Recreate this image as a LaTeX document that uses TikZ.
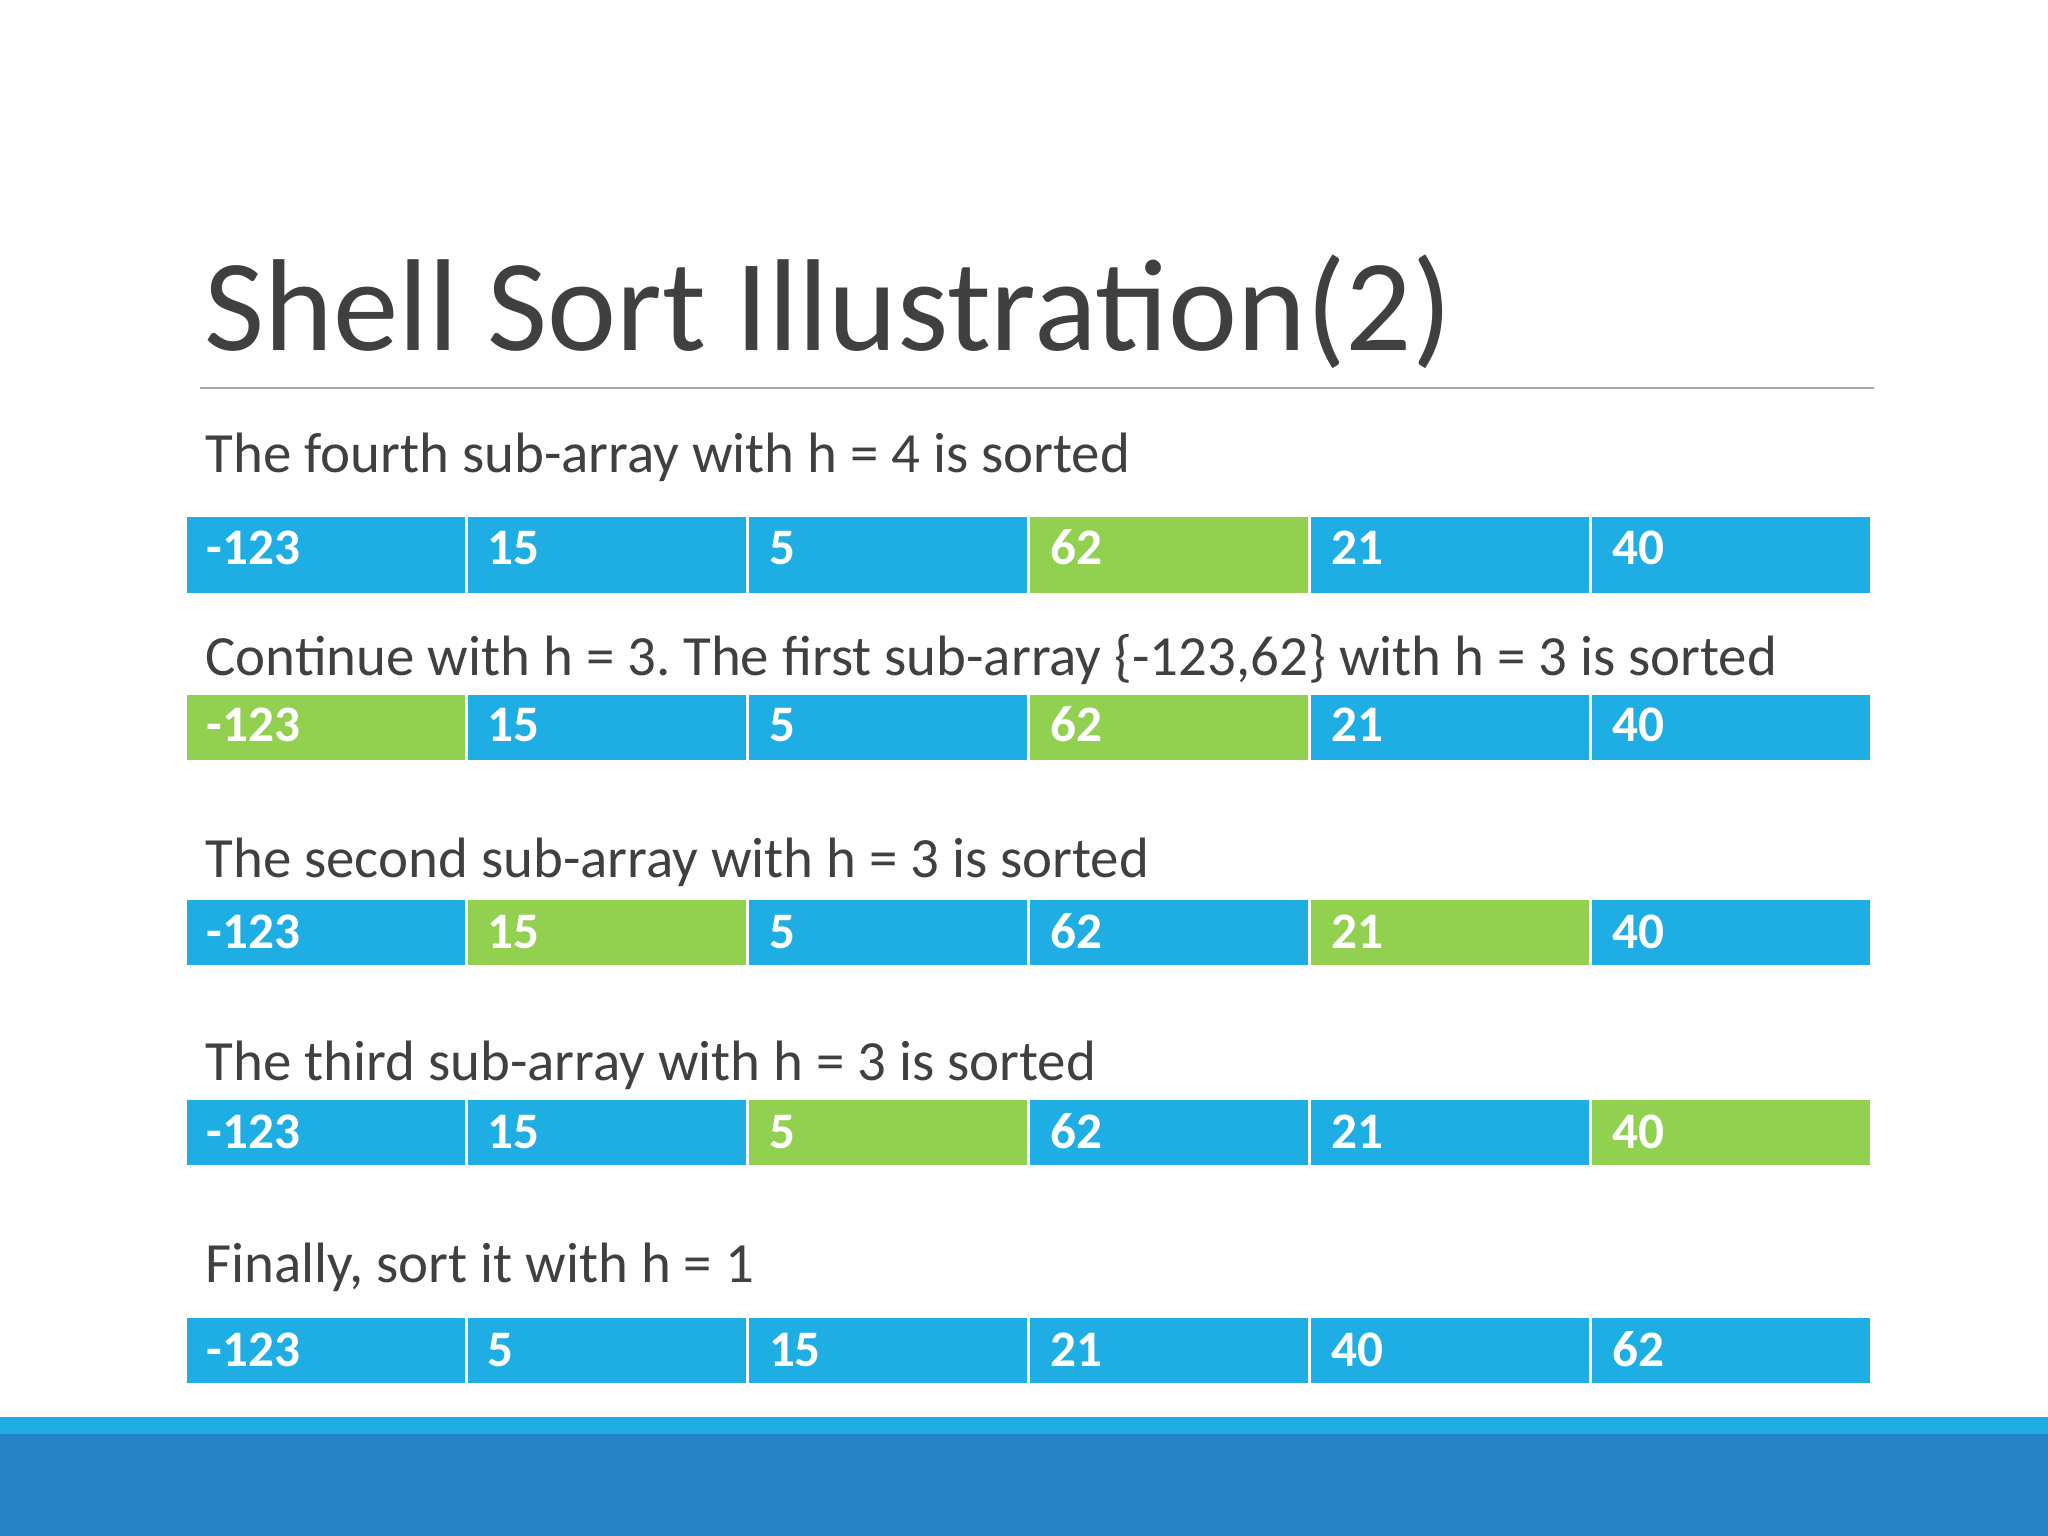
\documentclass[tikz,border=0pt]{standalone}
\usepackage{fontspec}
\setmainfont{Carlito}
\frenchspacing
\definecolor{cellblue}{HTML}{1FAEE3}
\definecolor{cellgreen}{HTML}{92D050}
\definecolor{txtgray}{HTML}{404040}
\definecolor{barlight}{HTML}{1DADE3}
\definecolor{bardark}{HTML}{2683C6}
\definecolor{rulegray}{HTML}{A6A6A6}
\newcommand\cellrow[5]{%
  \foreach \v/\c [count=\i from 0] in {#5} {
    \node[cellbox, fill=\c, minimum height=#3] (#1c\i) at ({142+215.17*\i},#2) {};
    \node[num] (#1n\i) at ({158+215.17*\i},#4) {\v};
  }}
\begin{document}
\begin{tikzpicture}[x=0.459184pt,y=-0.459184pt,
  cellbox/.style={draw=white, line width=1pt, minimum width=98.8pt, inner sep=0pt, outer sep=0pt, anchor=north west},
  num/.style={text=white, font=\fontsize{18}{20}\selectfont\bfseries, anchor=base west, inner sep=0pt},
  caption/.style={text=txtgray, font=\fontsize{20}{24}\selectfont, anchor=base west, inner sep=0pt}]
\useasboundingbox (0,0) rectangle (1568,1176);
\fill[white] (0,0) rectangle (1568,1176);
% title
\node[anchor=base west, inner sep=0pt, text=txtgray, font=\fontsize{46}{50}\selectfont] (title) at (156,268) {Shell Sort Illustration(2)};
\coordinate (ruleL) at (153,297);
\coordinate (ruleR) at (1435,297);
\draw[rulegray, line width=0.7pt] (ruleL) -- (ruleR);
% captions
\node[caption] (cap1) at (157,362) {The fourth sub-array with h = 4 is sorted};
\node[caption] (cap2) at (157,517) {Continue with h = 3. The first sub-array \{-123,62\} with h = 3 is sorted};
\node[caption] (cap3) at (157,672) {The second sub-array with h = 3 is sorted};
\node[caption] (cap4) at (157,827) {The third sub-array with h = 3 is sorted};
\node[caption] (cap5) at (157,982) {Finally, sort it with h = 1};
% rows
\cellrow{ra}{395}{27.55pt}{432}{-123/cellblue,15/cellblue,5/cellblue,62/cellgreen,21/cellblue,40/cellblue}
\cellrow{rb}{531}{23.88pt}{568}{-123/cellgreen,15/cellblue,5/cellblue,62/cellgreen,21/cellblue,40/cellblue}
\cellrow{rc}{688}{23.88pt}{726}{-123/cellblue,15/cellgreen,5/cellblue,62/cellblue,21/cellgreen,40/cellblue}
\cellrow{rd}{841}{23.88pt}{879}{-123/cellblue,15/cellblue,5/cellgreen,62/cellblue,21/cellblue,40/cellgreen}
\cellrow{re}{1008}{23.88pt}{1046}{-123/cellblue,5/cellblue,15/cellblue,21/cellblue,40/cellblue,62/cellblue}
% bottom band
\fill[barlight] (0,1085) rectangle (1568,1098);
\fill[bardark] (0,1098) rectangle (1568,1176);
\end{tikzpicture}
\end{document}
